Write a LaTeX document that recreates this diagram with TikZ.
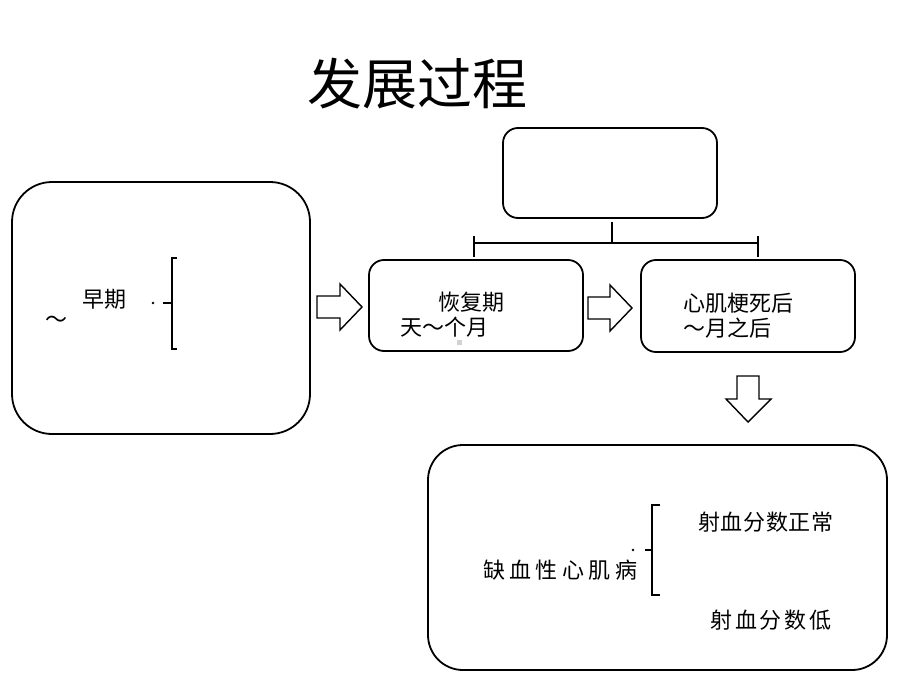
\documentclass[tikz,border=0pt]{standalone}
\usepackage{fontspec}
\setmainfont{Noto Sans CJK SC}
\newfontfamily\cjkwide[LetterSpace=20]{Noto Sans CJK SC}
\newfontfamily\cjkmid[LetterSpace=13]{Noto Sans CJK SC}
\newfontfamily\cjknarrow[LetterSpace=3]{Noto Sans CJK SC}
\begin{document}
\begin{tikzpicture}[x=1pt,y=-1pt,
  box/.style={draw,line width=1.8pt,fill=white,inner sep=0pt},
  txt/.style={anchor=west,inner sep=0pt,font=\fontsize{22}{22}\selectfont},
  brk/.style={line width=2.8pt},
  blockarrow/.style={draw,line width=1.4pt,fill=white,line join=miter}]
\useasboundingbox[fill=white] (0,0) rectangle (920,690);
% title
\node[inner sep=0pt,font=\fontsize{55}{55}\selectfont] (title) at (417,84) {发展过程};
% boxes
\node[box,minimum width=298pt,minimum height=252pt,rounded corners=40pt] (L) at (161,308) {};
\node[box,minimum width=214pt,minimum height=90pt,rounded corners=15pt] (T) at (610,173) {};
\node[box,minimum width=214pt,minimum height=91pt,rounded corners=15pt] (B2) at (476,305.5) {};
\node[box,minimum width=214pt,minimum height=92pt,rounded corners=15pt] (B3) at (748,306) {};
\node[box,minimum width=459pt,minimum height=225pt,rounded corners=35pt] (BB) at (657.5,557.5) {};
% tree connector
\coordinate (barL) at (474,243);
\coordinate (barR) at (758,243);
\coordinate (barM) at (612,243);
\draw[brk] (612,222) -- (barM);
\draw[brk] (barL) -- (barR);
\draw[brk] (474,236) -- (474,257);
\draw[brk] (758,236) -- (758,257);
% left box texts
\node[txt] (early) at (82,299) {早期};
\node[txt] (tilde) at (45,322) {～};
\fill (153,303) circle (1.4pt);
\draw[brk] (177,258) -- (172,258) -- (172,349) -- (177,349);
\draw[brk] (163,303) -- (172,303);
% box 2 texts
\node[txt] (rec) at (438,302) {恢复期};
\node[txt] (rec2) at (400,327) {天～个月};
\fill[gray!35] (457,340) rectangle (462,345);
% box 3 texts
\node[txt] (mi) at (683,303) {心肌梗死后};
\node[txt] (mi2) at (683,328) {～月之后};
% bottom box texts
\node[txt,font=\cjkwide\fontsize{22}{22}\selectfont] (icm) at (483,570) {缺血性心肌病};
\fill (633,550) circle (1.4pt);
\draw[brk] (660,505) -- (652,505) -- (652,595) -- (660,595);
\draw[brk] (645,550) -- (652,550);
\node[txt,font=\cjknarrow\fontsize{22}{22}\selectfont] (ef1) at (698,522) {射血分数正常};
\node[txt,font=\cjkmid\fontsize{22}{22}\selectfont] (ef2) at (710,620) {射血分数低};
% block arrows
\draw[blockarrow] (317,296) -- (340,296) -- (340,284) -- (362,307) -- (340,330) -- (340,318) -- (317,318) -- cycle;
\draw[blockarrow] (588,297) -- (610,297) -- (610,285) -- (632,308) -- (610,331) -- (610,319) -- (588,319) -- cycle;
\draw[blockarrow] (737,376) -- (759,376) -- (759,399) -- (771,399) -- (748,422) -- (726,399) -- (737,399) -- cycle;
\end{tikzpicture}
\end{document}
